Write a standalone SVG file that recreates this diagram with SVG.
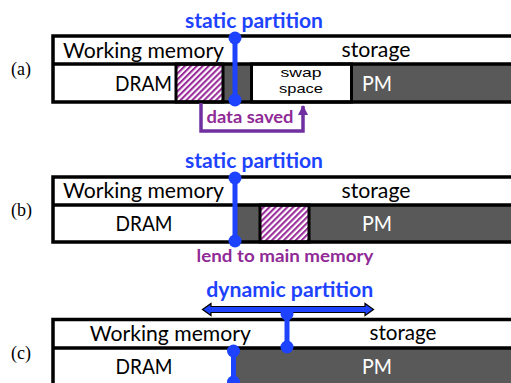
<svg xmlns="http://www.w3.org/2000/svg" width="511" height="383" viewBox="0 0 511 383">
<style>
.lbl{font-family:Lato,"Liberation Sans",sans-serif;font-size:20.5px;fill:#000;text-anchor:middle}
.pm{fill:#fff}
.sm{font-family:"Liberation Sans",sans-serif;font-size:13.5px}
.blue{font-family:Lato,"Liberation Sans",sans-serif;font-weight:bold;font-size:20px;fill:#1D43FF;text-anchor:middle}
.pur{font-family:Lato,"Liberation Sans",sans-serif;font-weight:bold;font-size:17.5px;fill:#8F2A96;text-anchor:middle}
.tag{font-family:"Liberation Serif",serif;font-size:18px;fill:#000}
.frame{fill:none;stroke:#000;stroke-width:3.5}
.cell{stroke:#000;stroke-width:3}
.gray{fill:#595959}
.white{fill:#fff}
.part{stroke:#1D43FF;stroke-width:5;fill:none}
.dot{fill:#1D43FF}
.brk{fill:none;stroke:#7030A0;stroke-width:3.5}
</style>
<defs>
<pattern id="hatch" width="4.2" height="4.2" patternUnits="userSpaceOnUse" patternTransform="rotate(45)">
<rect width="4.2" height="4.2" fill="#fff"/>
<rect width="2.1" height="4.2" fill="#9B2D9B"/>
</pattern>
<marker id="ah" viewBox="0 0 10 10" refX="9" refY="5" markerWidth="3" markerHeight="3" orient="auto" markerUnits="strokeWidth">
<path d="M0,0 L10,5 L0,10 z" fill="#7030A0"/>
</marker>
</defs>

<!-- Panel (a) -->
<g id="panel-a">
<text class="tag" x="11" y="75">(a)</text>
<rect class="gray" x="53" y="64" width="470" height="38"/>
<rect class="white" x="53" y="64" width="123" height="38"/>
<rect class="white" x="53" y="36" width="470" height="28"/>
<g id="a-hatch"><rect class="cell" x="176" y="64" width="47" height="38" fill="url(#hatch)"/></g>
<g id="a-swap"><rect class="cell white" x="251.5" y="64" width="100" height="38"/>
<text class="lbl sm" x="301" y="77" textLength="41" lengthAdjust="spacingAndGlyphs">swap</text>
<text class="lbl sm" x="301" y="92.5" textLength="44" lengthAdjust="spacingAndGlyphs">space</text></g>
<rect class="frame" x="53" y="36" width="480" height="66"/>
<line x1="53" y1="64" x2="515" y2="64" stroke="#000" stroke-width="3.5"/>
<text class="lbl" x="143.5" y="58" textLength="161" lengthAdjust="spacingAndGlyphs">Working memory</text>
<text class="lbl" x="376" y="57" textLength="69" lengthAdjust="spacingAndGlyphs">storage</text>
<text class="lbl" x="143.5" y="91" textLength="57" lengthAdjust="spacingAndGlyphs">DRAM</text>
<text class="lbl pm" x="377" y="91" textLength="30" lengthAdjust="spacingAndGlyphs">PM</text>
<text class="blue" x="254" y="28" textLength="138" lengthAdjust="spacingAndGlyphs">static partition</text>
<text class="pur" x="250" y="123" textLength="87" lengthAdjust="spacingAndGlyphs">data saved</text>
</g>

<!-- Panel (b) -->
<g id="panel-b">
<text class="tag" x="11" y="216">(b)</text>
<rect class="gray" x="53" y="205" width="470" height="37"/>
<rect class="white" x="53" y="205" width="182" height="37"/>
<rect class="white" x="53" y="177" width="470" height="28"/>
<g id="b-hatch"><rect class="cell" x="260" y="205" width="49" height="37" fill="url(#hatch)"/></g>
<rect class="frame" x="53" y="177" width="480" height="65"/>
<line x1="53" y1="205" x2="515" y2="205" stroke="#000" stroke-width="3.5"/>
<text class="lbl" x="143.5" y="198" textLength="161" lengthAdjust="spacingAndGlyphs">Working memory</text>
<text class="lbl" x="376" y="198" textLength="69" lengthAdjust="spacingAndGlyphs">storage</text>
<text class="lbl" x="144" y="231" textLength="57" lengthAdjust="spacingAndGlyphs">DRAM</text>
<text class="lbl pm" x="377" y="231" textLength="30" lengthAdjust="spacingAndGlyphs">PM</text>
<text class="blue" x="254" y="168" textLength="138" lengthAdjust="spacingAndGlyphs">static partition</text>
<text class="pur" x="285" y="262" textLength="177" lengthAdjust="spacingAndGlyphs">lend to main memory</text>
</g>

<!-- Panel (c) -->
<g id="panel-c">
<text class="tag" x="11" y="359">(c)</text>
<rect class="white" x="53" y="319.5" width="470" height="28.5"/>
<rect class="white" x="53" y="348" width="182" height="40"/>
<rect class="gray" x="235" y="348" width="290" height="40"/>
<path d="M53,390 V319.5 H515 M53,348 H515" fill="none" stroke="#000" stroke-width="3.5"/>
<text class="lbl" x="170.3" y="341" textLength="161" lengthAdjust="spacingAndGlyphs">Working memory</text>
<text class="lbl" x="403" y="339.5" textLength="67" lengthAdjust="spacingAndGlyphs">storage</text>
<text class="lbl" x="144" y="374" textLength="57" lengthAdjust="spacingAndGlyphs">DRAM</text>
<text class="lbl pm" x="377" y="374" textLength="30" lengthAdjust="spacingAndGlyphs">PM</text>
<text class="blue" x="289.7" y="297" textLength="167" lengthAdjust="spacingAndGlyphs">dynamic partition</text>
<g id="c-arrow"><path d="M202.5,309.5 L211,303.5 L211,306.5 L365,306.5 L365,303.5 L373.5,309.5 L365,315.5 L365,312.5 L211,312.5 L211,315.5 Z" fill="#1D43FF" stroke="#000" stroke-width="1.2"/></g>
</g>

<!-- Connectors / partitions -->
<g id="connectors">
<line class="part" x1="235" y1="38" x2="235" y2="100"/>
<circle class="dot" cx="235" cy="38" r="6.5"/>
<circle class="dot" cx="235" cy="100" r="6.5"/>
<polyline class="brk" points="201,103 201,131 303,131 303,106" marker-end="url(#ah)"/>
<line class="part" x1="235" y1="178" x2="235" y2="241"/>
<circle class="dot" cx="235" cy="178" r="6.5"/>
<circle class="dot" cx="235" cy="241" r="6.5"/>
<line class="part" x1="233.5" y1="351" x2="233.5" y2="382"/>
<circle class="dot" cx="233.5" cy="351" r="6.5"/>
<circle class="dot" cx="233.5" cy="382" r="6.5"/>
<line class="part" x1="287" y1="314" x2="287" y2="347"/>
<circle class="dot" cx="287" cy="314" r="6.5"/>
<circle class="dot" cx="287" cy="347" r="6.5"/>
</g>
</svg>
